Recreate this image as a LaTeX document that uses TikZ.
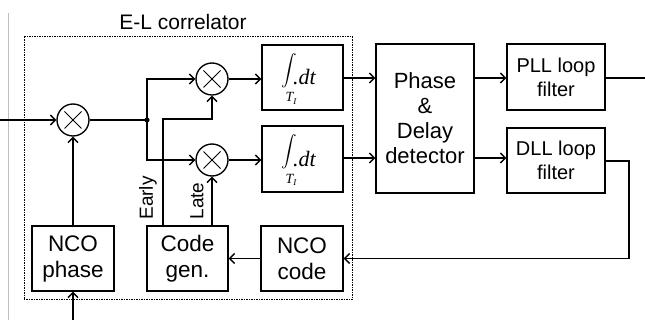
\documentclass[tikz,border=0pt]{standalone}
\usepackage{fontspec}
\setmainfont{Liberation Sans}
\newfontfamily\tms{Liberation Serif}
\usetikzlibrary{arrows.meta,calc}
\begin{document}
\begin{tikzpicture}[x=1pt,y=-1pt,line width=1.35pt,
  arr/.style={-{Straight Barb[length=5pt,width=10pt,line width=1.3pt]}},
  blk/.style={draw,inner sep=0pt,align=center,font=\fontsize{22.5}{26}\selectfont},
  flt/.style={blk,font=\fontsize{20}{24}\selectfont},
  mix/.style={circle,draw,minimum size=32pt,inner sep=0pt,
    path picture={\draw[line width=1pt] (path picture bounding box.center) ++(-8.5,-8.5) -- ++(17,17)
      (path picture bounding box.center) ++(-8.5,8.5) -- ++(17,-17);}},
  lbl/.style={font=\fontsize{19}{22}\selectfont,inner sep=0pt},
  isign/.style={inner sep=0pt},
  idt/.style={inner sep=0pt,anchor=base west,font=\tms\itshape\fontsize{22}{22}\selectfont},
  isub/.style={inner sep=0pt,anchor=base,font=\tms\itshape\fontsize{14}{14}\selectfont}]
\useasboundingbox (0,0) rectangle (645,320);
% faint margin line
\draw[line width=0.8pt,black!25] (8,13) -- (8,320);
% correlator frame
\draw[line width=1pt,dash pattern=on 1.5pt off 1pt] (24,37) rectangle (352,300);
\node[font=\fontsize{21}{24}\selectfont,inner sep=0pt] (title) at (183,22) {E-L correlator};
% mixers
\node[mix] (m1) at (73,120) {};
\node[mix] (m2) at (212,79) {};
\node[mix] (m3) at (212,160) {};
\coordinate (j) at (147,120);
\fill (j) circle (2.6pt);
% integrators
\node[blk,minimum width=81pt,minimum height=65pt] (i1) at (302.5,77.5) {};
\node[blk,minimum width=81pt,minimum height=66pt] (i2) at (302.5,159) {};
\node[isign] (s1) at (289,70.5) {\scalebox{1.55}{$\displaystyle\int$}};
\node[idt] (d1) at (292.5,85) {.dt};
\node[isub] (u1) at (291,102) {T\raisebox{-2.5pt}{\fontsize{9}{9}\selectfont I}};
\node[isign] (s2) at (289,152) {\scalebox{1.55}{$\displaystyle\int$}};
\node[idt] (d2) at (292.5,166.5) {.dt};
\node[isub] (u2) at (291,183.5) {T\raisebox{-2.5pt}{\fontsize{9}{9}\selectfont I}};
% right blocks
\node[blk,minimum width=98pt,minimum height=149pt,font=\fontsize{22}{25}\selectfont] (pd) at (425,118.5) {Phase\\\&\\Delay\\detector};
\node[flt,minimum width=98pt,minimum height=66pt] (pll) at (556,77) {PLL loop\\filter};
\node[flt,minimum width=98pt,minimum height=65pt] (dll) at (556,160.5) {DLL loop\\filter};
% bottom blocks
\node[blk,minimum width=82pt,minimum height=65pt] (ncop) at (73,258.5) {NCO\\phase};
\node[blk,minimum width=81pt,minimum height=65pt] (cg) at (187.5,258.5) {Code\\gen.};
\node[blk,minimum width=82pt,minimum height=65pt] (ncoc) at (302,258.5) {NCO\\code};
% coordinates
\coordinate (in) at (0,120);
\coordinate (inb) at (73,320);
\coordinate (out) at (645,78);
\coordinate (fb1) at (629,161);
\coordinate (fb2) at (629,258.5);
% connectors
\draw[arr] (in) -- (m1.west);
\draw[arr] (inb) -- (ncop.south);
\draw[arr] (ncop.north) -- (m1.south);
\draw (m1.east) -- (j);
\draw[arr] (j) |- (m2.west);
\draw[arr] (j) |- (m3.west);
\draw[arr] (m2.east) -- (m2.east -| i1.west);
\draw[arr] (m3.east) -- (m3.east -| i2.west);
\draw[arr] (i1.east |- 0,78) -- (pd.west |- 0,78);
\draw[arr] (i2.east |- 0,158) -- (pd.west |- 0,158);
\draw[arr] (pd.east |- 0,78) -- (pll.west |- 0,78);
\draw[arr] (pd.east |- 0,158) -- (dll.west |- 0,158);
\draw (pll.east |- out) -- (out);
\draw[arr] (dll.east |- fb1) -- (fb1) -- (fb2) -- (ncoc.east |- fb2);
\draw[arr] (ncoc.west) -- (cg.east);
\draw[arr] (cg.north -| 163,0) -- (163,119) -| (m2.south);
\draw[arr] (cg.north -| m3.south) -- (m3.south);
% labels
\node[lbl,rotate=90] (early) at (148,198) {Early};
\node[lbl,rotate=90] (late) at (197,201) {Late};
\end{tikzpicture}
\end{document}
